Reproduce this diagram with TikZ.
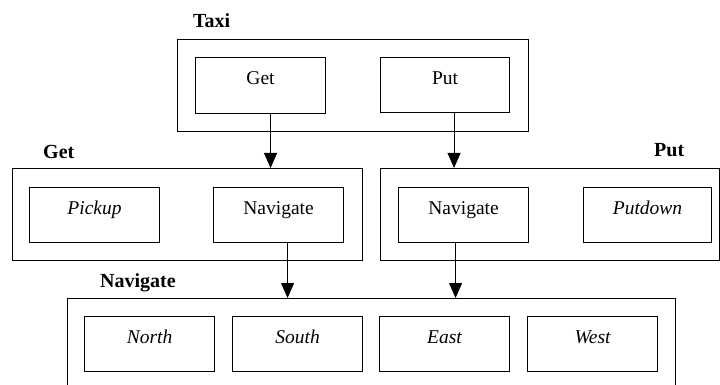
\documentclass[tikz,border=0pt]{standalone}
\usepackage{fontspec}
\setmainfont{Liberation Serif}
\usetikzlibrary{arrows.meta}
\begin{document}
\begin{tikzpicture}[x=1pt,y=-1pt,
  outerbox/.style={draw, line width=1.1pt, anchor=north west, inner sep=0pt},
  inbox/.style={draw, line width=1.1pt, anchor=north west, inner sep=0pt,
    minimum width=130pt, text height=27pt, text depth=28pt,
    font=\fontsize{19.5}{22}\selectfont},
  title/.style={anchor=base west, inner sep=0pt, font=\fontsize{20}{22}\selectfont\bfseries},
  arr/.style={line width=0.9pt, -{Triangle[length=15pt,width=13pt]}}
]
\useasboundingbox (0,0) rectangle (720,385);
\clip (0,0) rectangle (720,385);
% Taxi
\node[title] (ttaxi) at (193,28) {Taxi};
\node[outerbox, minimum width=351pt, minimum height=92pt] (taxi) at (177,39) {};
\node[inbox, text depth=29pt] (tget) at (195,57) {Get};
\node[inbox, text depth=28pt, minimum width=129pt] (tput) at (380,57) {Put};
% Get
\node[title] (tgetl) at (43,158) {Get};
\node[outerbox, minimum width=350pt, minimum height=92pt] (gouter) at (12,168) {};
\node[inbox] (gpick) at (29,187) {\itshape Pickup};
\node[inbox] (gnav) at (213,187) {Navigate};
% Put
\node[title] (tputl) at (654,157) {Put};
\node[outerbox, minimum width=339pt, minimum height=92pt] (pouter) at (380,168) {};
\node[inbox] (pnav) at (398,187) {Navigate};
\node[inbox, minimum width=128pt] (pdown) at (583,187) {\itshape Putdown};
% Navigate
\node[title] (tnavl) at (100,287) {Navigate};
\node[outerbox, minimum width=608pt, minimum height=110pt] (nouter) at (67,298) {};
\node[inbox] (nnorth) at (84,316) {\itshape North};
\node[inbox] (nsouth) at (232,316) {\itshape South};
\node[inbox] (neast) at (379,316) {\itshape East};
\node[inbox] (nwest) at (527,316) {\itshape West};
% connectors
\draw[arr] ([xshift=10pt]tget.south) -- ([xshift=10pt]tget.south |- gouter.north);
\draw[arr] ([xshift=9pt]tput.south) -- ([xshift=9pt]tput.south |- pouter.north);
\draw[arr] ([xshift=9pt]gnav.south) -- ([xshift=9pt]gnav.south |- nouter.north);
\draw[arr] ([xshift=-8pt]pnav.south) -- ([xshift=-8pt]pnav.south |- nouter.north);
\end{tikzpicture}
\end{document}
